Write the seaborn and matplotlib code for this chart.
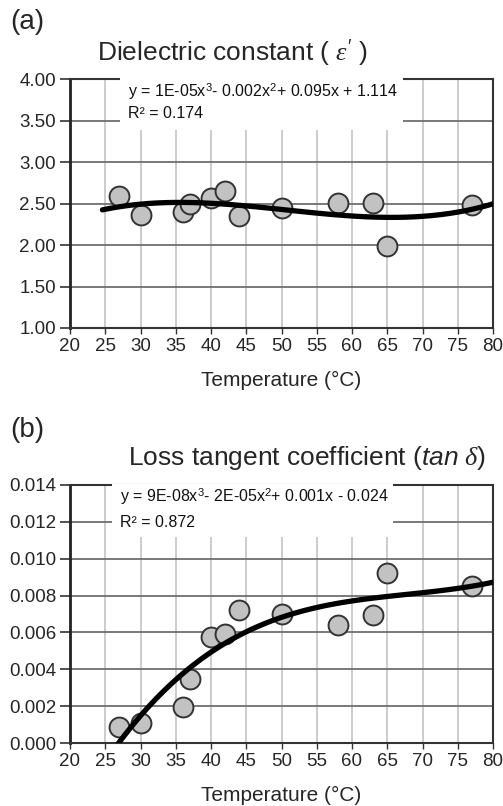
import matplotlib
matplotlib.use("Agg")
import matplotlib.pyplot as plt
import seaborn as sns
import numpy as np
import pandas as pd
from matplotlib.patches import Rectangle

# Measured samples
temp_eps = [27, 30, 36, 37, 40, 42, 44, 50, 58, 63, 65, 77]
eps_real = [2.59, 2.36, 2.40, 2.49, 2.57, 2.65, 2.35, 2.44, 2.51, 2.51, 1.99, 2.48]

temp_tan = [27, 30, 36, 37, 40, 42, 44, 50, 58, 63, 65, 77]
tan_delta = [0.00085, 0.00106, 0.00193, 0.00346, 0.00575, 0.00593, 0.00724,
             0.00701, 0.00643, 0.00692, 0.00920, 0.00850]

x_ticks = [20, 25, 30, 35, 40, 45, 50, 55, 60, 65, 70, 75, 80]
eps_ticks = [1.00, 1.50, 2.00, 2.50, 3.00, 3.50, 4.00]
tan_ticks = [0.000, 0.002, 0.004, 0.006, 0.008, 0.010, 0.012, 0.014]

eq_eps = [r"y = 1E-05x$^{3}$- 0.002x$^{2}$+ 0.095x + 1.114", "R² = 0.174"]
eq_tan = [r"y = 9E-08x$^{3}$- 2E-05x$^{2}$+ 0.001x - 0.024", "R² = 0.872"]

sns.set_theme(style="white")
plt.rcParams["font.family"] = ["Liberation Sans", "DejaVu Sans"]
plt.rcParams["mathtext.fontset"] = "custom"
plt.rcParams["mathtext.rm"] = "Liberation Sans"
plt.rcParams["mathtext.it"] = "Liberation Serif:italic"
plt.rcParams["mathtext.sf"] = "Liberation Sans:italic"

W, H = 503, 806
fig = plt.figure(figsize=(W / 100, H / 100), dpi=100)


def px_axes(left, top, right, bottom):
    return fig.add_axes([left / W, 1 - bottom / H, (right - left) / W, (bottom - top) / H])


ax_a = px_axes(70, 79, 493, 328)
ax_b = px_axes(70, 485, 493, 743)


def style_axes(ax, yticks, fmt):
    ax.set_xlim(20, 80)
    ax.set_ylim(yticks[0], yticks[-1])
    ax.set_xticks(x_ticks)
    ax.set_yticks(yticks)
    ax.set_yticklabels([fmt.format(v) for v in yticks])
    ax.tick_params(axis="y", direction="out", length=7, width=1.2, color="#333333",
                   labelsize=13.5, pad=3, left=True)
    ax.tick_params(axis="x", direction="out", length=4, width=1.0, color="#333333",
                   labelsize=13.5, pad=3, bottom=True)
    for v in x_ticks[1:-1]:
        ax.axvline(v, color="#c4c4c4", lw=1.2, zorder=0.5)
    for v in yticks[1:-1]:
        ax.axhline(v, color="#6e6e6e", lw=1.3, zorder=0.6)
    for side in ["top", "right", "bottom"]:
        ax.spines[side].set_color("#333333")
        ax.spines[side].set_linewidth(1.5)
    ax.spines["left"].set_color("#222222")
    ax.spines["left"].set_linewidth(2.0)
    ax.set_xlabel("Temperature (°C)", fontsize=15, labelpad=12)
    ax.set_ylabel("")


def draw_panel(ax, x, y, x_start):
    ax.set_xlim(x_start, 80)
    sns.regplot(x=x, y=y, order=3, ci=None, truncate=False, scatter=False, ax=ax,
                line_kws=dict(color="black", lw=3.8, zorder=4, solid_capstyle="round"))
    sns.scatterplot(x=x, y=y, s=205, color="#c2c2c2", edgecolor="#333333",
                    linewidth=1.4, zorder=3, ax=ax, legend=False)


def equation_box(ax, x0, x1, y0, y1, lines, ys, xt):
    ax.add_patch(Rectangle((x0, y0), x1 - x0, y1 - y0, facecolor="white",
                           edgecolor="none", zorder=5, clip_on=False))
    for txt, yy in zip(lines, ys):
        ax.text(xt, yy, txt, fontsize=11.5, va="center", ha="left", zorder=6,
                color="#111111")


draw_panel(ax_a, temp_eps, eps_real, 24.6)
style_axes(ax_a, eps_ticks, "{:.2f}")
equation_box(ax_a, 27.1, 67.2, 3.39, 4.03, eq_eps, [3.85, 3.59], 28.2)

draw_panel(ax_b, temp_tan, tan_delta, 20)
style_axes(ax_b, tan_ticks, "{:.3f}")
equation_box(ax_b, 26.0, 65.8, 0.0112, 0.01407, eq_tan, [0.0134, 0.01195], 27.1)

fig.text(10 / W, 1 - 22 / H, "(a)", fontsize=20, va="center", ha="left")
fig.text(10 / W, 1 - 430 / H, "(b)", fontsize=20, va="center", ha="left")
fig.text(97 / W, 1 - 53 / H, r"Dielectric constant ( $\varepsilon'$ )", fontsize=19,
         va="center", ha="left")
fig.text(128 / W, 1 - 458 / H, r"Loss tangent coefficient ($\mathsf{tan}\ \delta$)",
         fontsize=19, va="center", ha="left")

fig.savefig("out.png", dpi=100, facecolor="white")
